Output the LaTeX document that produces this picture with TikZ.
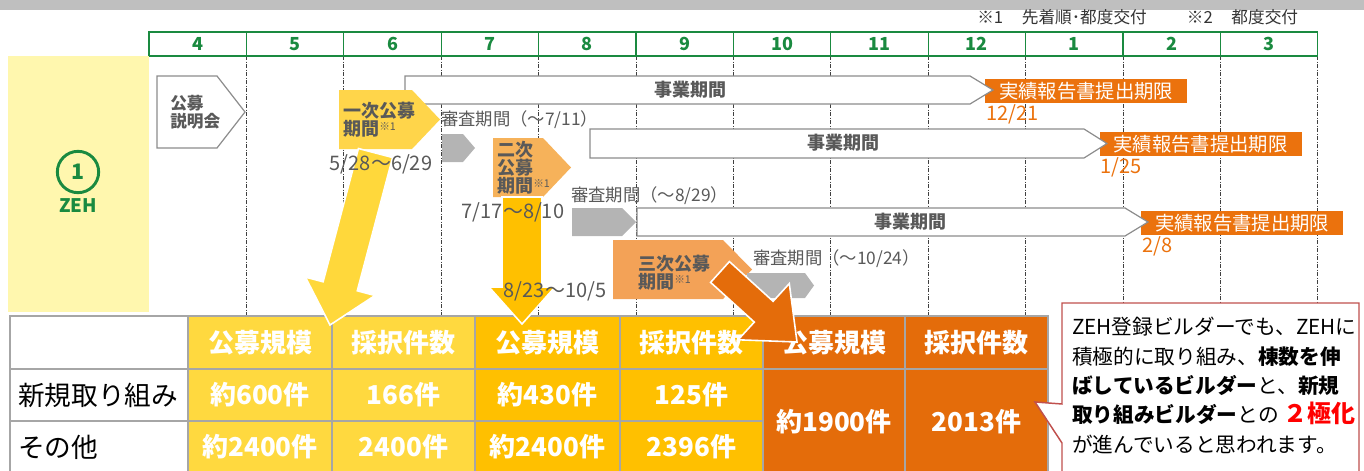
\documentclass[tikz,border=0pt]{standalone}
\usepackage{fontspec}
\setmainfont{Noto Sans CJK JP}
\usetikzlibrary{positioning}

\definecolor{zehgreen}{HTML}{1A8A40}
\definecolor{panelyellow}{HTML}{FFF7AE}
\definecolor{labelgray}{HTML}{595959}
\definecolor{reviewgray}{HTML}{B4B4B4}
\definecolor{dueorange}{HTML}{EB720D}
\definecolor{firstyellow}{HTML}{FFD54A}
\definecolor{secondorange}{HTML}{F6B25A}
\definecolor{thirdorange}{HTML}{F3A257}
\definecolor{arrowyellow}{HTML}{FFD83B}
\definecolor{tabyellow}{HTML}{FFD93F}
\definecolor{tabgold}{HTML}{FFC000}
\definecolor{taborange}{HTML}{E46C0A}
\definecolor{notered}{HTML}{C0504D}

\newcommand{\fsz}[1]{\fontsize{#1}{#1}\selectfont}
\newcommand{\kome}{\raisebox{4pt}{\fontsize{8}{8}\selectfont\mdseries ※1}}
\newcommand{\penta}[6][]{\path[#1] (#2,#3) -- (#4,#3) -- (#5,{(#3+#6)/2}) -- (#4,#6) -- (#2,#6) -- cycle;}

\tikzset{
  month/.style={text=zehgreen, font=\fsz{13.5}\bfseries},
  guide/.style={draw=black!75, line width=0.5pt, dash pattern=on 3pt off 1.2pt on 0.6pt off 1.2pt},
  period/.style={fill=white, draw=black!45, line width=0.9pt},
  periodtext/.style={text=labelgray, font=\fsz{13.5}\bfseries},
  callbox/.style={text=labelgray, font=\fontsize{13.5}{13.5}\selectfont\bfseries, align=left, anchor=west, inner sep=0pt},
  reviewtext/.style={text=labelgray, font=\fsz{13}, anchor=west, inner sep=0pt},
  datetext/.style={text=labelgray, font=\fsz{15}, inner sep=0pt},
  deadline/.style={fill=dueorange, text=white, font=\fsz{14.5}, minimum width=151.5pt, minimum height=17.5pt, inner sep=0pt},
  duedate/.style={text=dueorange, font=\fsz{15}, anchor=north west, inner sep=1pt},
  bigarrow/.style={draw=white, line width=1.2pt},
  headcell/.style={text=white, font=\fsz{19.5}\bfseries},
  datacell/.style={text=white, font=\fsz{19.5}\bfseries},
  rowlabel/.style={text=black, font=\fsz{20}, anchor=west, inner sep=0pt},
  tabline/.style={draw=black!35, line width=1.5pt},
}

\begin{document}
\begin{tikzpicture}[x=0.75pt, y=-0.75pt]
  \useasboundingbox (0,0) rectangle (1364,471);

  \def\gx{149}
  \def\colw{97.4}

  \fill[black!25] (0,0) rectangle (1364,10);
  \node[font=\fsz{12.5}, text=black!80, anchor=west, inner sep=0pt] (notes) at (977,17)
    {※1\hspace{14pt}先着順･都度交付\hspace{30pt}※2\hspace{14pt}都度交付};

  % months
  \foreach \k in {1,...,12} {
    \draw[guide] ({\gx+\k*\colw},56) -- ({\gx+\k*\colw},316);
  }
  \draw[zehgreen, line width=0.9pt] (\gx,32) rectangle ({\gx+12*\colw},56);
  \foreach \k in {1,...,11} {
    \draw[zehgreen, line width=0.9pt] ({\gx+\k*\colw},32) -- ({\gx+\k*\colw},56);
  }
  \foreach \m [count=\i from 0] in {4,5,6,7,8,9,10,11,12,1,2,3} {
    \node[month] (m\i) at ({\gx+(\i+0.5)*\colw},44) {\m};
  }

  \fill[panelyellow] (8,56) rectangle (\gx,312);
  \node[circle, draw=zehgreen, line width=2.2pt, minimum size=31pt, inner sep=0pt,
        text=zehgreen, font=\fsz{16}\bfseries] (num) at (78,172) {1};
  \node[below=0pt of num, text=zehgreen, font=\fsz{14}\bfseries] (zeh) {ZEH};

  \penta[period]{157}{76}{217}{245}{148}
  \node[callbox, font=\fontsize{12.5}{13.5}\selectfont\bfseries] (brief) at (170,112) {公募\\説明会};

  % deadlines
  \node[deadline] (rep1) at (1086,91) {実績報告書提出期限};
  \node[deadline] (rep2) at (1200.5,144) {実績報告書提出期限};
  \node[deadline] (rep3) at (1242,223) {実績報告書提出期限};
  \node[duedate] (due1) at (rep1.south west) {12/21};
  \node[duedate] (due2) at (rep2.south west) {1/25};
  \node[duedate] (due3) at (rep3.south west) {2/8};

  \penta[period]{405}{76}{970}{993}{104}
  \penta[period]{590}{129}{1084}{1107}{158}
  \penta[period]{637}{208}{1125}{1148}{236}
  \node[periodtext] (term1) at (690,90) {事業期間};
  \node[periodtext] (term2) at (843,143) {事業期間};
  \node[periodtext] (term3) at (910,222) {事業期間};

  % calls
  \penta[fill=firstyellow]{339}{90}{412}{440}{149}
  \penta[fill=secondorange]{493}{138}{543}{571}{197}
  \penta[fill=thirdorange]{613}{240}{723}{752}{299}
  \penta[fill=reviewgray]{442}{134}{463}{475}{162}
  \penta[fill=reviewgray]{572}{208}{622}{636}{236}
  \penta[fill=reviewgray]{747}{273}{805}{814}{298}
  \node[callbox] (call1) at (343,120) {一次公募\\期間\kome};
  \node[callbox] (call2) at (497,168) {二次\\公募\\期間\kome};
  \node[callbox] (call3) at (638,273) {三次公募\\期間\kome};
  \node[reviewtext] (rev1) at (441,120) {審査期間（～7/11）};
  \node[reviewtext] (rev2) at (571,196) {審査期間（～8/29）};
  \node[reviewtext] (rev3) at (753,259) {審査期間（～10/24）};

  % table
  \fill[tabyellow] (188,316) rectangle (475,475);
  \fill[tabgold] (475,316) rectangle (763,475);
  \fill[taborange] (763,316) rectangle (1048,475);
  \draw[tabline] (10,316) rectangle (1048,475);
  \foreach \x in {188,332,475,620,763,905} {
    \draw[tabline] (\x,316) -- (\x,475);
  }
  \draw[tabline] (10,369) -- (1048,369);
  \draw[tabline] (10,421) -- (763,421);
  \foreach \x/\t [count=\i] in {260/公募規模,403.5/採択件数,547.5/公募規模,691.5/採択件数,834/公募規模,976.5/採択件数} {
    \node[headcell] (head\i) at (\x,343) {\t};
  }
  \node[rowlabel] (rownew) at (18,395) {新規取り組み};
  \node[rowlabel] (rowother) at (18,447) {その他};
  \node[datacell] (new1) at (260,395) {約600件};
  \node[datacell] (new2) at (403.5,395) {166件};
  \node[datacell] (new3) at (547.5,395) {約430件};
  \node[datacell] (new4) at (691.5,395) {125件};
  \node[datacell] (other1) at (260,447) {約2400件};
  \node[datacell] (other2) at (403.5,447) {2400件};
  \node[datacell] (other3) at (547.5,447) {約2400件};
  \node[datacell] (other4) at (691.5,447) {2396件};
  \node[datacell] (third1) at (834,422) {約1900件};
  \node[datacell] (third2) at (976.5,422) {2013件};

  % big arrows
  \filldraw[bigarrow, fill=arrowyellow] (392.6,157.5) -- (357.3,290.8) -- (375.0,295.5) -- (330,325)
    -- (305.4,277.1) -- (323.1,281.8) -- (358.4,148.5) -- cycle;
  \filldraw[bigarrow, fill=tabgold] (502,197) -- (542,197) -- (542,287) -- (555,287) -- (522,324)
    -- (489,287) -- (502,287) -- cycle;
  \filldraw[bigarrow, fill=taborange] (729.4,261.6) -- (773.1,301.3) -- (789.3,283.6) -- (797,342)
    -- (738.1,339.8) -- (754.3,322.1) -- (710.6,282.4) -- cycle;
  \node[datetext] (date1) at (381,164) {5/28～6/29};
  \node[datetext] (date2) at (513,212) {7/17～8/10};
  \node[datetext] (date3) at (555,291) {8/23～10/5};

  % callout
  \filldraw[fill=white, draw=notered, line width=1.1pt] (1062,303) -- (1359,303) -- (1359,475)
    -- (1062,475) -- (1062,443) -- (1035,402) -- (1062,404) -- cycle;
  \node[anchor=north west, align=left, inner sep=0pt, font=\fontsize{15.5}{22}\selectfont] (note) at (1072,317)
    {ZEH登録ビルダーでも、ZEHに\\積極的に取り組み、\textbf{棟数を伸}\\\textbf{ばしているビルダー}と、\textbf{新規}\\\textbf{取り組みビルダー}との {\color{red}\bfseries\fontsize{18}{22}\selectfont ２極化}\\が進んでいると思われます。};
\end{tikzpicture}
\end{document}
